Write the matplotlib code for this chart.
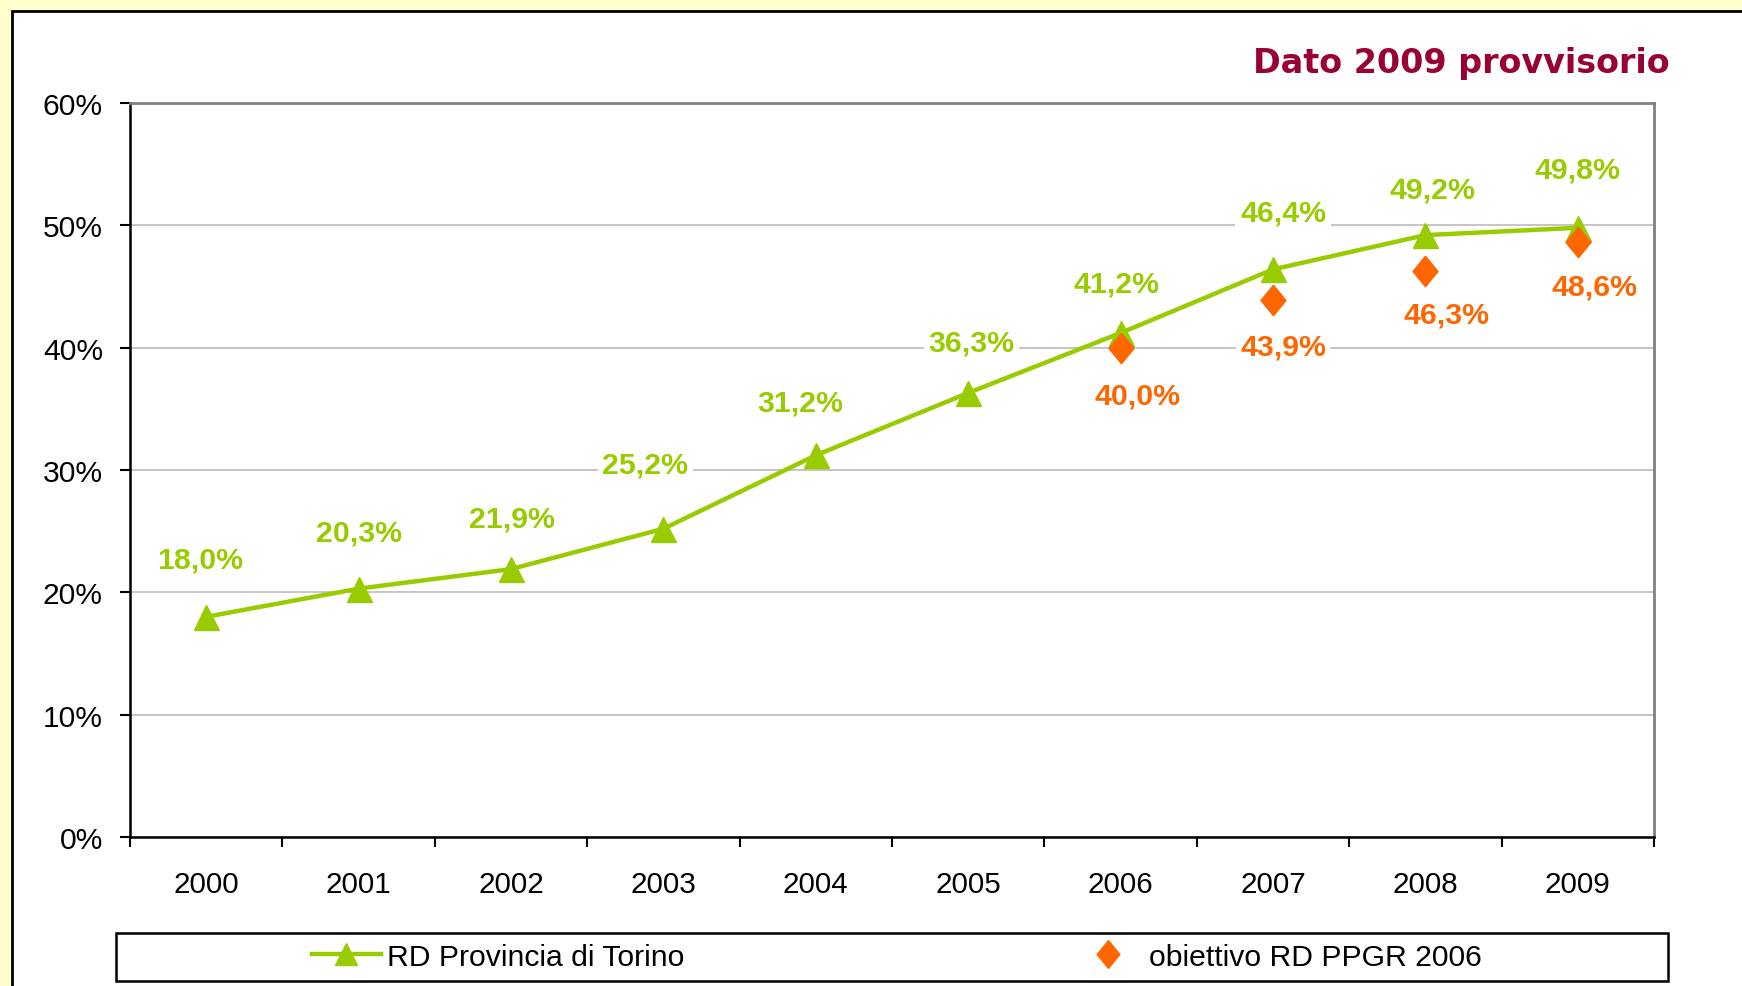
import matplotlib
matplotlib.use("Agg")
import matplotlib.pyplot as plt
from matplotlib.patches import Rectangle
from matplotlib.lines import Line2D
from matplotlib.ticker import FixedLocator, FuncFormatter

# ---- data ----
years = ["2000", "2001", "2002", "2003", "2004", "2005", "2006", "2007", "2008", "2009"]
rd_torino = [18.0, 20.3, 21.9, 25.2, 31.2, 36.3, 41.2, 46.4, 49.2, 49.8]
obiettivo_years = ["2006", "2007", "2008", "2009"]
obiettivo = [40.0, 43.9, 46.3, 48.6]
series_names = ["RD Provincia di Torino", "obiettivo RD PPGR 2006"]
title_text = "Dato 2009 provvisorio"
y_ticks = [0, 10, 20, 30, 40, 50, 60]

# ---- label offsets (pixels) ----
green_off = [(-6, 57), (0, 56), (1, 51), (-18, 64), (-16, 53), (3, 50), (-4, 49), (10, 57), (7, 46), (0, 58)]
orange_off = [(17, -48), (10, -47), (21, -44), (17, -44)]

GREEN = "#99CC00"
ORANGE = "#FF6600"
FONT = "Liberation Sans"

W, H = 1742, 987
fig = plt.figure(figsize=(W / 100, H / 100), dpi=100)
fig.patch.set_facecolor("#FFFFCC")

# white panel with black border (left/top)
fig.add_artist(Rectangle((12 / W, -0.1), 1.2, 1.1 - 12 / H, transform=fig.transFigure,
                         facecolor="white", edgecolor="black", lw=2.0, zorder=0))

ax = fig.add_axes([130 / W, 1 - 838 / H, (1654 - 130) / W, (838 - 104) / H])
ax.set_facecolor("white")

x = list(range(len(years)))
xo = [years.index(y) for y in obiettivo_years]

ax.plot(x, [v / 100 for v in rd_torino], color=GREEN, lw=3.2, marker="^", ms=18,
        markeredgecolor=GREEN, zorder=3, clip_on=False)
diamond = [(0, 1), (0.82, 0), (0, -1), (-0.82, 0), (0, 1)]
ax.plot(xo, [v / 100 for v in obiettivo], ls="none", marker=diamond, ms=22,
        color=ORANGE, markeredgecolor=ORANGE, zorder=4, clip_on=False)

def fmt(v):
    return ("%.1f%%" % v).replace(".", ",")

for xi, v, (dx, dy) in zip(x, rd_torino, green_off):
    ax.annotate(fmt(v), (xi, v / 100), xytext=(dx, dy), textcoords="offset pixels",
                ha="center", va="center", color=GREEN, fontsize=21.8, fontweight="bold",
                family=FONT, zorder=5,
                bbox=dict(boxstyle="square,pad=0.15", facecolor="white", edgecolor="none"))
for xi, v, (dx, dy) in zip(xo, obiettivo, orange_off):
    ax.annotate(fmt(v), (xi, v / 100), xytext=(dx, dy), textcoords="offset pixels",
                ha="center", va="center", color=ORANGE, fontsize=21.8, fontweight="bold",
                family=FONT, zorder=5,
                bbox=dict(boxstyle="square,pad=0.15", facecolor="white", edgecolor="none"))

ax.set_xlim(-0.5, len(years) - 0.5)
ax.set_ylim(0, 0.6)
ax.yaxis.set_major_locator(FixedLocator([t / 100 for t in y_ticks]))
ax.yaxis.set_major_formatter(FuncFormatter(lambda v, p: "%d%%" % round(v * 100)))
ax.set_xticks(x)
ax.set_xticklabels(years)
ax.set_xticks([i - 0.5 for i in range(len(years) + 1)], minor=True)

ax.tick_params(axis="x", which="major", length=0, pad=24, labelsize=21.3)
ax.tick_params(axis="x", which="minor", length=7, width=1.5, direction="out", color="black")
ax.tick_params(axis="y", which="major", length=7, width=1.5, direction="out", pad=12.5, labelsize=21.6)
for lab in ax.get_xticklabels() + ax.get_yticklabels():
    lab.set_family(FONT)

ax.grid(axis="y", color="#C0C0C0", lw=1.3, zorder=1)
ax.set_axisbelow(True)
for s in ["left", "bottom"]:
    ax.spines[s].set_color("black")
    ax.spines[s].set_linewidth(1.8)
for s in ["top", "right"]:
    ax.spines[s].set_color("#808080")
    ax.spines[s].set_linewidth(2.0)

fig.text(1670 / W, 1 - 64 / H, title_text, ha="right", va="center", color="#990033",
         fontsize=24, fontweight="bold", family="DejaVu Sans")

# legend frame
fig.add_artist(Rectangle((116 / W, 1 - 982 / H), (1668 - 116) / W, 48 / H,
                         transform=fig.transFigure, facecolor="white", edgecolor="black",
                         lw=1.8, zorder=1))
handles = [Line2D([], [], color=GREEN, lw=3.2, marker="^", ms=16),
           Line2D([], [], ls="none", marker=diamond, ms=20, color=ORANGE)]
leg = fig.legend(handles, series_names, loc="center", bbox_to_anchor=(897 / W, 1 - 958 / H),
                 ncol=2, frameon=False, handlelength=2.26, handletextpad=0.23,
                 columnspacing=12.9, prop={"family": FONT, "size": 21.7})

fig.savefig("out.png", dpi=100, facecolor=fig.get_facecolor())
